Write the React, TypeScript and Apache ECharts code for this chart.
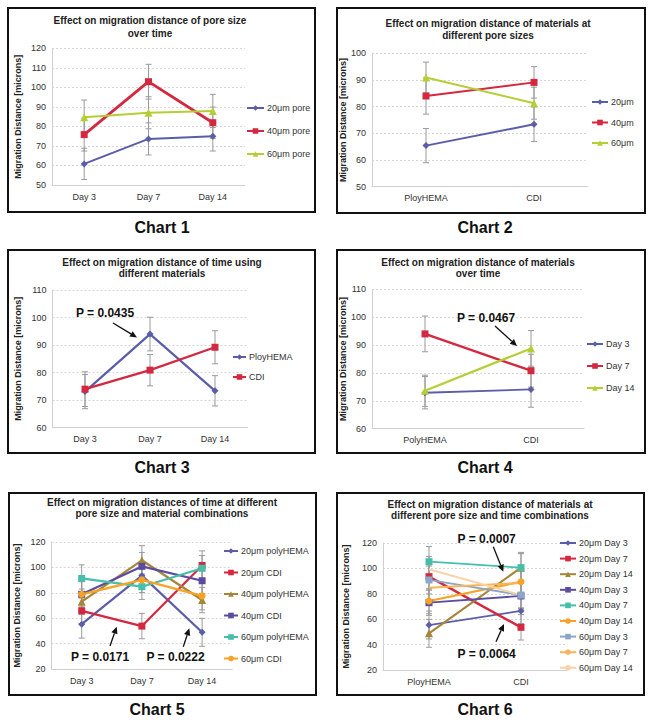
import React, { useEffect, useRef } from "react";
import * as echarts from "echarts";

const FONT = "'Liberation Sans', Arial, Helvetica, sans-serif";

// ---------- categories / labels ----------
const dayCategories = ["Day 3", "Day 7", "Day 14"];
const materialCategoriesTypo = ["PloyHEMA", "CDI"];
const materialCategories = ["PolyHEMA", "CDI"];
const chartLabels = ["Chart 1", "Chart 2", "Chart 3", "Chart 4", "Chart 5", "Chart 6"];
const chartTitles = [
  ["Effect on migration distance of pore size", "over time"],
  ["Effect on migration distance of materials at", "different pore sizes"],
  ["Effect on migration distance of time using", "different materials"],
  ["Effect on migration distance of materials", "over time"],
  ["Effect on migration distances of time at different", "pore size and material combinations"],
  ["Effect on migration distance of materials at", "different pore size and time combinations"],
];
const yAxisTitle = "Migration Distance [microns]";

// ---------- Chart 1 ----------
const c1Names = ["20μm pore", "40μm pore", "60μm pore"];
const c1Pore20 = [60.8, 73.6, 74.9];
const c1Pore40 = [75.8, 102.9, 81.9];
const c1Pore60 = [84.7, 87.0, 87.9];
const c1Err20 = [8.0, 8.2, 7.5];
const c1Err40 = [8.4, 8.9, 8.0];
const c1Err60 = [8.8, 8.2, 8.5];

// ---------- Chart 2 ----------
const c2Names = ["20μm", "40μm", "60μm"];
const c2Pore20 = [65.4, 73.4];
const c2Pore40 = [84.0, 89.1];
const c2Pore60 = [90.9, 81.3];
const c2Err20 = [6.4, 6.5];
const c2Err40 = [6.8, 5.9];
const c2Err60 = [5.8, 6.0];

// ---------- Chart 3 ----------
const c3Names = ["PloyHEMA", "CDI"];
const c3Poly = [73.1, 94.0, 73.4];
const c3CDI = [74.0, 80.9, 89.2];
const c3ErrPoly = [6.2, 6.1, 5.5];
const c3ErrCDI = [6.3, 5.7, 6.0];

// ---------- Chart 4 ----------
const c4Names = ["Day 3", "Day 7", "Day 14"];
const c4Day3 = [72.9, 74.1];
const c4Day7 = [94.0, 80.8];
const c4Day14 = [73.6, 88.8];
const c4ErrDay3 = [5.8, 6.4];
const c4ErrDay7 = [6.4, 5.9];
const c4ErrDay14 = [5.6, 6.4];

// ---------- Chart 5 ----------
const c5Names = ["20μm polyHEMA", "20μm CDI", "40μm polyHEMA", "40μm CDI", "60μm polyHEMA", "60μm CDI"];
const c5Pore20Poly = [55.3, 93.5, 48.9];
const c5Pore20CDI = [65.8, 53.8, 101.5];
const c5Pore40Poly = [73.0, 105.6, 74.3];
const c5Pore40CDI = [78.8, 100.8, 89.5];
const c5Pore60Poly = [91.3, 84.8, 99.3];
const c5Pore60CDI = [78.8, 90.2, 77.6];
const c5Err20Poly = [11.0, 10.5, 11.0];
const c5Err20CDI = [10.0, 10.0, 11.5];
const c5Err40Poly = [10.0, 11.5, 10.0];
const c5Err40CDI = [10.0, 11.0, 10.0];
const c5Err60Poly = [10.7, 10.0, 10.0];
const c5Err60CDI = [10.0, 10.0, 11.0];

// ---------- Chart 6 ----------
const c6Names = [
  "20μm Day 3", "20μm Day 7", "20μm Day 14",
  "40μm Day 3", "40μm Day 7", "40μm Day 14",
  "60μm Day 3", "60μm Day 7", "60μm Day 14",
];
const c6Pore20Day3 = [55.4, 66.5];
const c6Pore20Day7 = [93.5, 53.6];
const c6Pore20Day14 = [48.9, 100.6];
const c6Pore40Day3 = [73.0, 78.3];
const c6Pore40Day7 = [105.3, 100.6];
const c6Pore40Day14 = [74.3, 89.5];
const c6Pore60Day3 = [90.9, 79.0];
const c6Pore60Day7 = [84.8, 88.5];
const c6Pore60Day14 = [99.3, 79.0];
const c6Err20Day3 = [11, 10];
const c6Err20Day7 = [10.5, 10];
const c6Err20Day14 = [11, 12];
const c6Err40Day3 = [10, 10];
const c6Err40Day7 = [12, 11];
const c6Err40Day14 = [10, 10];
const c6Err60Day3 = [11, 10];
const c6Err60Day7 = [10, 10];
const c6Err60Day14 = [10, 11];

// ---------- styles ----------
const BLUE = "#5B5DA8";
const RED = "#D3283F";
const GREEN = "#B4CF35";
const OLIVE = "#A4853A";
const INDIGO = "#5B4C9F";
const TEAL = "#45BFA9";
const ORANGE = "#F7A325";
const GREYBLUE = "#8DA6C6";
const LORANGE = "#F8B458";
const PEACH = "#F9D3A8";

type Panel = {
  cats: string[];
  names: string[];
  values: number[][];
  errors: number[][];
  colors: string[];
  symbols: string[];
  widths: number[];
  yMin: number;
  yMax: number;
  yInterval: number;
  grid: { left: number; top: number; width: number; height: number };
  legend: { left: number; top: number; step: number; icon: number };
  nameGap: number;
};

const panels: Panel[] = [
  {
    cats: dayCategories,
    names: c1Names,
    values: [c1Pore20, c1Pore40, c1Pore60],
    errors: [c1Err20, c1Err40, c1Err60],
    colors: [BLUE, RED, GREEN],
    symbols: ["diamond", "rect", "triangle"],
    widths: [2, 2.8, 2],
    yMin: 50, yMax: 120, yInterval: 10,
    grid: { left: 52, top: 48.3, width: 193, height: 136.7 },
    legend: { left: 246, top: 108, step: 23, icon: 17 },
    nameGap: 30,
  },
  {
    cats: materialCategoriesTypo,
    names: c2Names,
    values: [c2Pore20, c2Pore40, c2Pore60],
    errors: [c2Err20, c2Err40, c2Err60],
    colors: [BLUE, RED, GREEN],
    symbols: ["diamond", "rect", "triangle"],
    widths: [2, 2, 2],
    yMin: 50, yMax: 100, yInterval: 10,
    grid: { left: 372, top: 53.3, width: 216, height: 133.4 },
    legend: { left: 591, top: 102, step: 20.5, icon: 16 },
    nameGap: 22,
  },
  {
    cats: dayCategories,
    names: c3Names,
    values: [c3Poly, c3CDI],
    errors: [c3ErrPoly, c3ErrCDI],
    colors: [BLUE, RED],
    symbols: ["diamond", "rect"],
    widths: [2.2, 2.2],
    yMin: 60, yMax: 110, yInterval: 10,
    grid: { left: 52.5, top: 290, width: 195, height: 137.7 },
    legend: { left: 232, top: 357, step: 20, icon: 13 },
    nameGap: 30,
  },
  {
    cats: materialCategories,
    names: c4Names,
    values: [c4Day3, c4Day7, c4Day14],
    errors: [c4ErrDay3, c4ErrDay7, c4ErrDay14],
    colors: [BLUE, RED, GREEN],
    symbols: ["diamond", "rect", "triangle"],
    widths: [1.8, 2.4, 2.2],
    yMin: 60, yMax: 110, yInterval: 10,
    grid: { left: 372, top: 289.3, width: 212, height: 139.4 },
    legend: { left: 586, top: 344, step: 22, icon: 16 },
    nameGap: 23,
  },
  {
    cats: dayCategories,
    names: c5Names,
    values: [c5Pore20Poly, c5Pore20CDI, c5Pore40Poly, c5Pore40CDI, c5Pore60Poly, c5Pore60CDI],
    errors: [c5Err20Poly, c5Err20CDI, c5Err40Poly, c5Err40CDI, c5Err60Poly, c5Err60CDI],
    colors: [BLUE, RED, OLIVE, INDIGO, TEAL, ORANGE],
    symbols: ["diamond", "rect", "triangle", "rect", "rect", "circle"],
    widths: [2.2, 2.2, 2.2, 2.2, 2.2, 2.2],
    yMin: 20, yMax: 120, yInterval: 20,
    grid: { left: 51.6, top: 542, width: 180.6, height: 127 },
    legend: { left: 223, top: 551, step: 21.5, icon: 14 },
    nameGap: 30,
  },
  {
    cats: materialCategoriesTypo,
    names: c6Names,
    values: [
      c6Pore20Day3, c6Pore20Day7, c6Pore20Day14,
      c6Pore40Day3, c6Pore40Day7, c6Pore40Day14,
      c6Pore60Day3, c6Pore60Day7, c6Pore60Day14,
    ],
    errors: [
      c6Err20Day3, c6Err20Day7, c6Err20Day14,
      c6Err40Day3, c6Err40Day7, c6Err40Day14,
      c6Err60Day3, c6Err60Day7, c6Err60Day14,
    ],
    colors: [BLUE, RED, OLIVE, INDIGO, TEAL, ORANGE, GREYBLUE, LORANGE, PEACH],
    symbols: ["diamond", "rect", "triangle", "rect", "rect", "circle", "rect", "none", "none"],
    widths: [1.8, 2.4, 2.2, 1.8, 1.8, 2.2, 1.8, 2, 2],
    yMin: 20, yMax: 120, yInterval: 20,
    grid: { left: 383, top: 543, width: 184, height: 127 },
    legend: { left: 559, top: 543, step: 15.6, icon: 16 },
    nameGap: 33,
  },
];

// ---------- layout of frames & annotations ----------
const boxes = [
  [8, 8, 307, 204],
  [337, 8, 308, 205],
  [8, 250, 307, 203],
  [337, 250, 308, 203],
  [9, 493, 307, 202],
  [337, 493, 307, 202],
];
const titlePos = [
  [150, 20, 33],
  [488, 23, 35],
  [162, 262, 273.5],
  [478, 262, 273.5],
  [162, 502, 513.5],
  [490, 504, 515.5],
];
const labelPos = [
  [162, 227],
  [485, 227],
  [162, 467],
  [485, 467],
  [157, 709],
  [485, 709],
];
const pLabels = ["P = 0.0435", "P = 0.0467", "P = 0.0171", "P = 0.0222", "P = 0.0007", "P = 0.0064"];
const pLabelPos = [
  [105, 313],
  [486, 318],
  [100, 657],
  [175.5, 657],
  [486.7, 538.5],
  [486.7, 653.5],
];
const arrows = [
  [113, 323, 137, 337.5],
  [495, 326, 517, 346],
  [110, 646, 116.7, 626.7],
  [183.3, 646.7, 189.3, 628.3],
  [493.3, 546.7, 503.3, 571.7],
  [496, 641.7, 504, 624],
];

function textEl(t: string, x: number, y: number, size: number, weight = "bold", fill = "#1f1f1f") {
  return {
    type: "text",
    x,
    y,
    silent: true,
    z: 10,
    style: {
      text: t,
      fontSize: size,
      fontWeight: weight,
      fontFamily: FONT,
      fill,
      align: "center",
      verticalAlign: "middle",
      textAlign: "center",
      textVerticalAlign: "middle",
    },
  };
}

function arrowEls(x1: number, y1: number, x2: number, y2: number) {
  const dx = x2 - x1;
  const dy = y2 - y1;
  const len = Math.hypot(dx, dy);
  const ux = dx / len;
  const uy = dy / len;
  const L = 7;
  const W = 3.2;
  const bx = x2 - ux * L;
  const by = y2 - uy * L;
  return [
    { type: "line", silent: true, z: 10, shape: { x1, y1, x2: bx, y2: by }, style: { stroke: "#111", lineWidth: 1.3 } },
    {
      type: "polygon",
      silent: true,
      z: 10,
      shape: { points: [[x2, y2], [bx - uy * W, by + ux * W], [bx + uy * W, by - ux * W]] },
      style: { fill: "#111" },
    },
  ];
}

function buildOption() {
  const grid: any[] = [];
  const xAxis: any[] = [];
  const yAxis: any[] = [];
  const series: any[] = [];
  const legend: any[] = [];

  panels.forEach((p, i) => {
    grid.push({ ...p.grid, containLabel: false });
    xAxis.push({
      type: "category",
      gridIndex: i,
      data: p.cats,
      boundaryGap: true,
      axisLine: { show: true, lineStyle: { color: "#d0d0d0", width: 1 } },
      axisTick: { show: false },
      axisLabel: { fontSize: 9, color: "#333", margin: 7, fontFamily: FONT },
      splitLine: { show: false },
    });
    yAxis.push({
      type: "value",
      gridIndex: i,
      min: p.yMin,
      max: p.yMax,
      interval: p.yInterval,
      axisLine: { show: true, lineStyle: { color: "#d0d0d0", width: 1 } },
      axisTick: { show: false },
      axisLabel: { fontSize: 9, color: "#333", margin: 6, fontFamily: FONT },
      splitLine: { show: true, lineStyle: { color: "#d6d6d6", type: [2, 2], width: 1 } },
      name: yAxisTitle,
      nameLocation: "middle",
      nameRotate: 90,
      nameGap: p.nameGap,
      nameTextStyle: { fontSize: 9, fontWeight: "bold", color: "#222", fontFamily: FONT },
    });
    p.names.forEach((n, k) => {
      const vals = p.values[k];
      const errs = p.errors[k];
      series.push({
        type: "custom",
        name: "err-" + i + "-" + k,
        xAxisIndex: i,
        yAxisIndex: i,
        silent: true,
        z: 2,
        data: vals.map((v, j) => [j, v - errs[j], v + errs[j]]),
        encode: { x: 0, y: [1, 2] },
        renderItem: (_params: any, api: any) => {
          const x = api.value(0);
          const lo = api.coord([x, api.value(1)]);
          const hi = api.coord([x, api.value(2)]);
          const w = 3;
          const st = { stroke: "#9a9a9a", lineWidth: 1 };
          return {
            type: "group",
            children: [
              { type: "line", shape: { x1: lo[0], y1: lo[1], x2: hi[0], y2: hi[1] }, style: st },
              { type: "line", shape: { x1: lo[0] - w, y1: lo[1], x2: lo[0] + w, y2: lo[1] }, style: st },
              { type: "line", shape: { x1: hi[0] - w, y1: hi[1], x2: hi[0] + w, y2: hi[1] }, style: st },
            ],
          };
        },
      });
      series.push({
        type: "line",
        name: n,
        xAxisIndex: i,
        yAxisIndex: i,
        data: vals,
        symbol: p.symbols[k],
        symbolSize: p.symbols[k] === "triangle" ? 8 : 7,
        showSymbol: p.symbols[k] !== "none",
        silent: true,
        z: 3,
        itemStyle: { color: p.colors[k] },
        lineStyle: { color: p.colors[k], width: p.widths[k] },
      });
    });
    legend.push({
      data: p.names,
      orient: "vertical",
      left: p.legend.left,
      top: p.legend.top - 5,
      padding: 0,
      itemWidth: p.legend.icon,
      itemHeight: 7,
      itemGap: p.legend.step - 10,
      selectedMode: false,
      textStyle: { fontSize: 9, color: "#333", fontFamily: FONT, lineHeight: 10, padding: [0, 0, 0, -2] },
    });
  });

  const elements: any[] = [];
  boxes.forEach((b) => {
    elements.push({
      type: "rect",
      silent: true,
      z: 1,
      shape: { x: b[0], y: b[1], width: b[2], height: b[3] },
      style: { fill: "none", stroke: "#111", lineWidth: 2 },
    });
  });
  chartTitles.forEach((t, i) => {
    elements.push(textEl(t[0], titlePos[i][0], titlePos[i][1], 10, "bold", "#222"));
    elements.push(textEl(t[1], titlePos[i][0], titlePos[i][2], 10, "bold", "#222"));
  });
  chartLabels.forEach((t, i) => {
    elements.push(textEl(t, labelPos[i][0], labelPos[i][1], 16, "bold", "#111"));
  });
  pLabels.forEach((t, i) => {
    elements.push(textEl(t, pLabelPos[i][0], pLabelPos[i][1], 12, "bold", "#111"));
  });
  arrows.forEach((a) => {
    elements.push(...arrowEls(a[0], a[1], a[2], a[3]));
  });

  return {
    animation: false,
    backgroundColor: "#ffffff",
    textStyle: { fontFamily: FONT },
    grid,
    xAxis,
    yAxis,
    series,
    legend,
    graphic: { elements },
  };
}

export default function App() {
  const ref = useRef<HTMLDivElement>(null);
  useEffect(() => {
    if (!ref.current) return;
    const chart = echarts.init(ref.current, undefined, { renderer: "svg" });
    chart.setOption(buildOption() as any);
    return () => {
      chart.dispose();
    };
  }, []);
  return (
    <div
      ref={ref}
      style={{ position: "absolute", left: 0, top: 0, width: 654, height: 723, background: "#fff" }}
    />
  );
}
